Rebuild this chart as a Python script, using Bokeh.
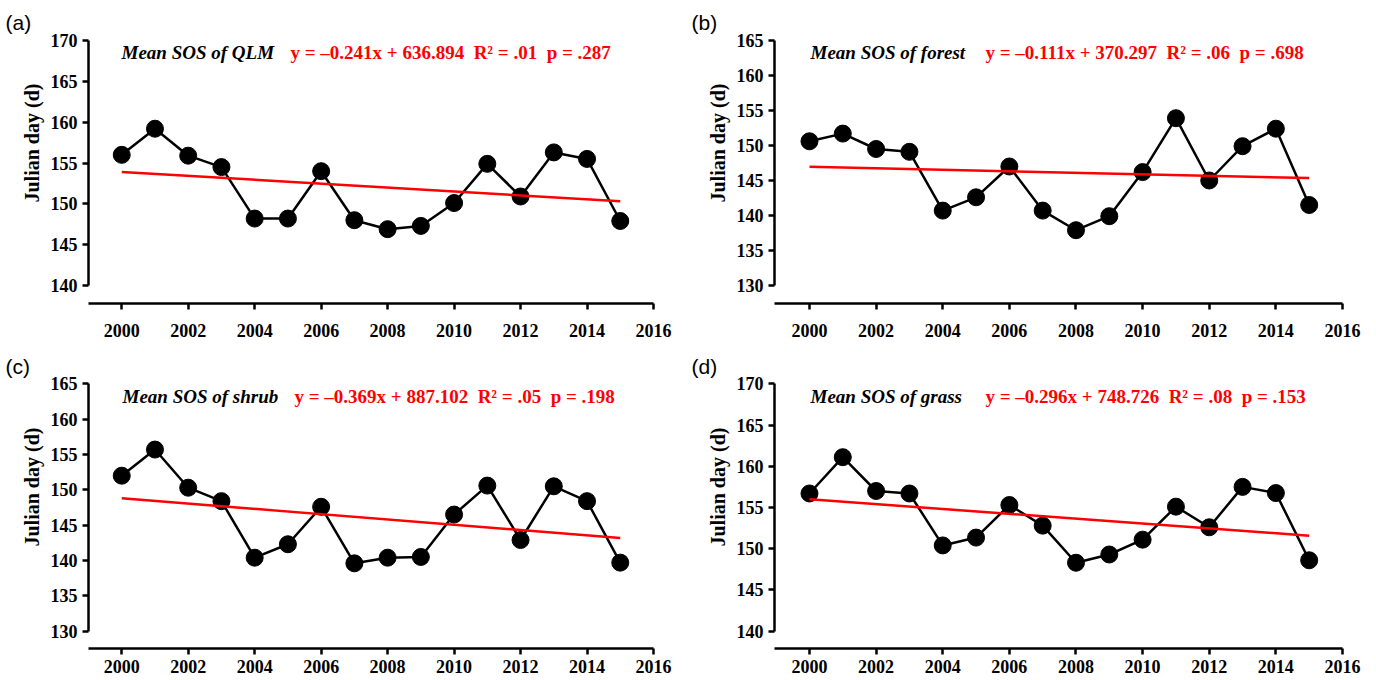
import numpy as np
from bokeh.plotting import figure
from bokeh.layouts import row, column
from bokeh.models import Label, FixedTicker, Range1d, Title
from bokeh.embed import file_html
from bokeh.resources import INLINE

# ---------------- data ----------------
years = [2000, 2001, 2002, 2003, 2004, 2005, 2006, 2007,
         2008, 2009, 2010, 2011, 2012, 2013, 2014, 2015]
sos_qlm = [156.0, 159.2, 155.9, 154.5, 148.2, 148.2, 154.0, 148.0,
           146.9, 147.3, 150.1, 154.9, 150.9, 156.3, 155.5, 147.9]
sos_forest = [150.6, 151.7, 149.5, 149.1, 140.7, 142.6, 147.0, 140.7,
              137.9, 139.9, 146.2, 153.9, 145.0, 149.9, 152.4, 141.5]
sos_shrub = [152.0, 155.7, 150.3, 148.4, 140.4, 142.3, 147.6, 139.6,
             140.4, 140.5, 146.5, 150.6, 142.9, 150.5, 148.4, 139.7]
sos_grass = [156.7, 161.1, 157.0, 156.7, 150.4, 151.35, 155.3, 152.8,
             148.3, 149.3, 151.1, 155.1, 152.6, 157.5, 156.75, 148.6]

x_ticks = [2000, 2002, 2004, 2006, 2008, 2010, 2012, 2014, 2016]
y_ticks_140_170 = [140, 145, 150, 155, 160, 165, 170]
y_ticks_130_165 = [130, 135, 140, 145, 150, 155, 160, 165]

panel_letters = ["(a)", "(b)", "(c)", "(d)"]
titles = ["Mean SOS of QLM", "Mean SOS of forest", "Mean SOS of shrub", "Mean SOS of grass"]
equations = [
    "y = \u20130.241x + 636.894\u00a0 R\u00b2 = .01\u00a0 p = .287",
    "y = \u20130.111x + 370.297\u00a0 R\u00b2 = .06\u00a0 p = .698",
    "y = \u20130.369x + 887.102\u00a0 R\u00b2 = .05\u00a0 p = .198",
    "y = \u20130.296x + 748.726\u00a0 R\u00b2 = .08\u00a0 p = .153",
]
y_label = "Julian day (d)"

SERIF = "Liberation Serif"
SANS = "Liberation Sans"


def make_panel(vals, yticks, yrange, xrange, w, h, bl, br, bt, bb,
               letter, title, eq, title_dx, eq_dx, title_dy, xlab_standoff, ylab_offset):
    p = figure(width=w, height=h, output_backend="svg", toolbar_location=None,
               x_range=Range1d(*xrange), y_range=Range1d(*yrange),
               min_border_left=bl, min_border_right=br,
               min_border_top=bt, min_border_bottom=bb)
    p.outline_line_color = None
    p.xgrid.visible = False
    p.ygrid.visible = False
    p.background_fill_color = "white"
    p.border_fill_color = "white"

    # panel letter as the figure title
    p.title.text = letter
    p.title.align = "left"
    p.title.offset = -83
    p.title.standoff = 6
    p.title.text_font = SANS
    p.title.text_font_style = "normal"
    p.title.text_font_size = "21px"
    p.title.text_color = "black"

    # y-axis label as a left-side title (placed higher than centre, like the original)
    p.add_layout(Title(text=y_label, align="left", offset=ylab_offset,
                       text_font=SERIF, text_font_style="bold",
                       text_font_size="20px", text_color="black",
                       standoff=9), "left")

    for ax in (p.xaxis[0], p.yaxis[0]):
        ax.axis_line_width = 2.5
        ax.axis_line_color = "black"
        ax.major_tick_line_width = 2.5
        ax.major_tick_line_color = "black"
        ax.major_tick_out = 6
        ax.major_tick_in = 0
        ax.minor_tick_out = 0
        ax.minor_tick_in = 0
        ax.major_label_text_font = SERIF
        ax.major_label_text_font_style = "bold"
        ax.major_label_text_font_size = "18px"
        ax.major_label_text_color = "black"

    p.xaxis.ticker = FixedTicker(ticks=x_ticks)
    p.xaxis.bounds = (xrange[0], 2016)
    p.xaxis.major_label_standoff = xlab_standoff
    p.yaxis.ticker = FixedTicker(ticks=yticks)
    p.yaxis.bounds = (yticks[0], yticks[-1])
    p.yaxis.major_label_standoff = 5

    # data line + markers
    p.line(years, vals, line_color="black", line_width=2.5)
    p.scatter(years, vals, size=17, fill_color="black", line_color="black")

    # linear trend fitted to the series
    slope, intercept = np.polyfit(np.array(years, float), np.array(vals, float), 1)
    tx = [years[0], years[-1]]
    ty = [slope * years[0] + intercept, slope * years[-1] + intercept]
    p.line(tx, ty, line_color="#ff0000", line_width=2.5)

    # in-plot headings (screen units relative to the frame)
    p.add_layout(Label(x=title_dx, y=title_dy, x_units="screen", y_units="screen",
                       text=title, text_font=SERIF, text_font_style="bold italic",
                       text_font_size="19px", text_color="black",
                       text_align="left", text_baseline="middle"))
    p.add_layout(Label(x=eq_dx, y=title_dy, x_units="screen", y_units="screen",
                       text=eq, text_font=SERIF, text_font_style="bold",
                       text_font_size="19px", text_color="#ff0000",
                       text_align="left", text_baseline="middle"))
    return p


pa = make_panel(sos_qlm, y_ticks_140_170, (137.80, 170.49), (1999.0, 2016),
                688, 344, 88, 35, 36, 41, panel_letters[0], titles[0], equations[0],
                33, 202, 251.5, 14, 101)
pb = make_panel(sos_forest, y_ticks_130_165, (127.43, 165.57), (1998.95, 2016),
                688, 344, 86, 34, 36, 41, panel_letters[1], titles[1], equations[1],
                36, 211, 251.5, 14, 101)
pc = make_panel(sos_shrub, y_ticks_130_165, (127.55, 165.47), (1999.0, 2016),
                688, 336, 88, 35, 36, 32, panel_letters[2], titles[2], equations[2],
                34, 206, 252, 5, 102)
pd = make_panel(sos_grass, y_ticks_140_170, (137.90, 170.4), (1998.95, 2016),
                688, 336, 86, 34, 36, 32, panel_letters[3], titles[3], equations[3],
                36, 211, 252, 5, 102)

layout = column(row(pa, pb), row(pc, pd))
open("out.html", "w").write(file_html(layout, INLINE))
